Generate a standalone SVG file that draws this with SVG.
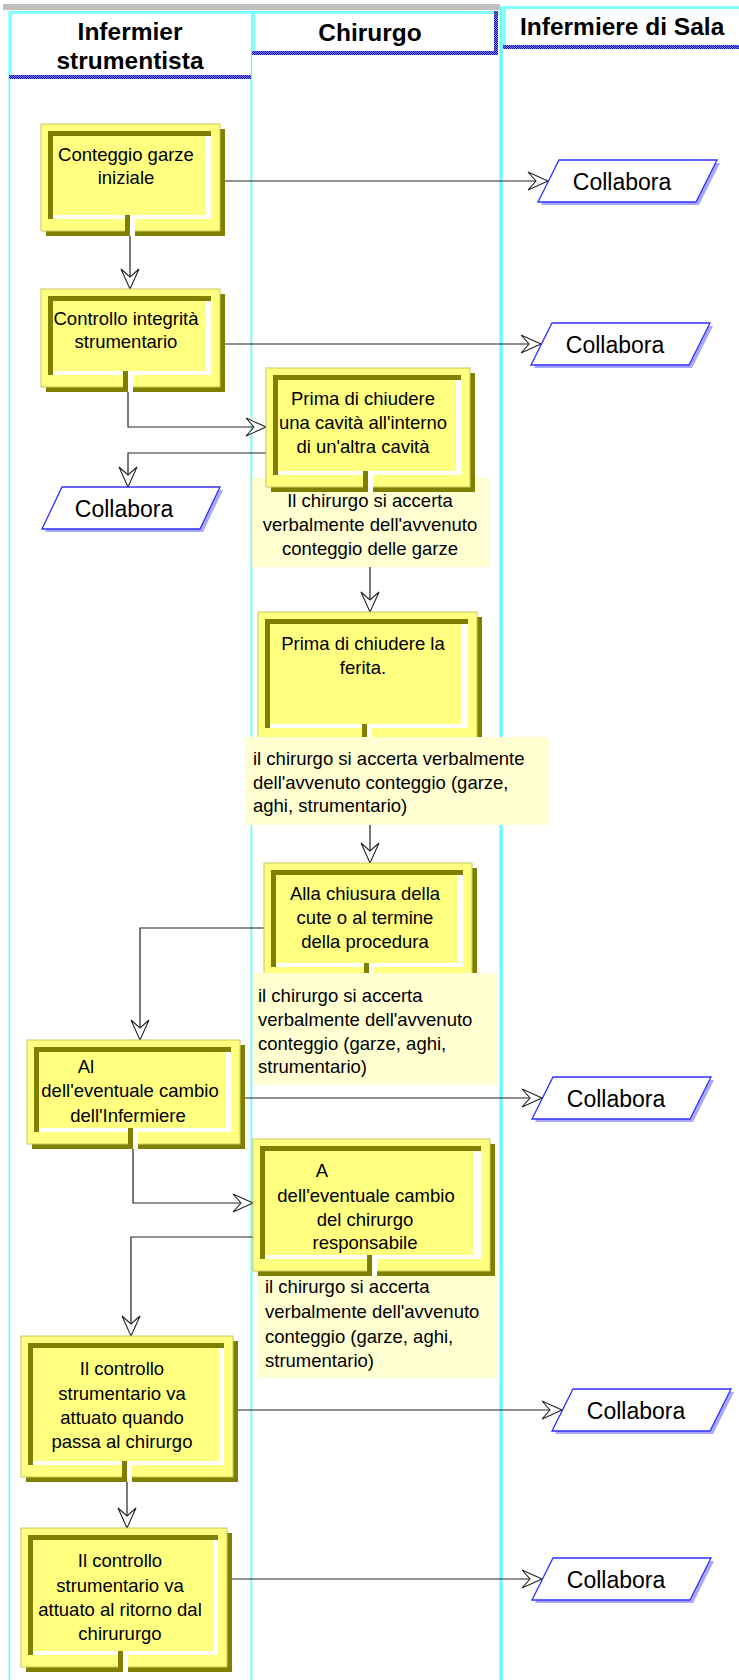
<svg xmlns="http://www.w3.org/2000/svg" width="739" height="1680" viewBox="0 0 739 1680">
<style>
.lane{fill:#66FFFF}
.hdr{fill:#FFFFFF}
.cy{fill:#80FFFF}
.dot{fill:url(#dots)}
.ht{font-family:"Liberation Sans",Arial,sans-serif;font-weight:bold;font-size:24.5px;fill:#000}
.sh{fill:#808000}
.out{fill:#FFFF80;stroke:#C8C860;stroke-width:1}
.frm{fill:#808000}
.wh{fill:#FFFFFF}
.face{fill:#FFFF80}
.t{font-family:"Liberation Sans",Arial,sans-serif;font-size:18.5px;fill:#000;text-anchor:middle}
.tl{font-family:"Liberation Sans",Arial,sans-serif;font-size:18.5px;fill:#000}
.note{fill:#FFFFD2}
.csh{fill:#A8A8FF}
.cp{fill:#FFFFFF;stroke:#3030FF;stroke-width:1.3}
.ct{font-family:"Liberation Sans",Arial,sans-serif;font-size:23px;fill:#000;text-anchor:middle}
.ln{fill:none;stroke:#222;stroke-width:1.2;marker-end:url(#arr)}
</style>
<defs>
<pattern id="dots" width="2" height="2" patternUnits="userSpaceOnUse">
<rect width="2" height="2" fill="#8080FF"/>
<rect width="1" height="1" fill="#1010A0"/>
<rect x="1" y="1" width="1" height="1" fill="#1010A0"/>
</pattern>
<marker id="arr" markerUnits="userSpaceOnUse" markerWidth="24" markerHeight="22" viewBox="0 0 24 22" refX="22" refY="11" orient="auto">
<path d="M2,2 L22,11 L2,20 L10,11 Z" fill="#FFFFFF" stroke="#222" stroke-width="1.1" stroke-linejoin="miter"/>
</marker>
</defs>
<rect width="739" height="1680" fill="#FFFFFF"/>

<g id="lanes">
<rect x="3" y="4" width="497" height="6" fill="#C0C0C0"/>
<rect class="lane" x="8.5" y="11" width="1.6" height="1669"/>
<rect class="lane" x="250.5" y="11" width="1.8" height="1669"/>
<rect class="lane" x="499.5" y="6" width="3.2" height="1674"/>
</g>

<g id="h1">
<rect class="hdr" x="9" y="11" width="242" height="68"/>
<rect class="cy" x="9" y="11" width="242" height="3"/>
<rect class="cy" x="9" y="11" width="3" height="68"/>
<rect class="dot" x="9" y="75" width="242" height="4"/>
<text class="ht" x="130" y="40" text-anchor="middle">Infermier</text>
<text class="ht" x="130" y="69" text-anchor="middle">strumentista</text>
</g>
<g id="h2">
<rect class="hdr" x="252" y="11" width="246" height="44"/>
<rect class="cy" x="252" y="11" width="246" height="3"/>
<rect class="cy" x="252" y="11" width="3" height="44"/>
<rect class="dot" x="494" y="11" width="4" height="44"/>
<rect class="dot" x="252" y="51" width="246" height="4"/>
<text class="ht" x="370" y="41" text-anchor="middle">Chirurgo</text>
</g>
<g id="h3">
<rect class="hdr" x="503" y="6" width="236" height="43"/>
<rect class="cy" x="503" y="6" width="236" height="3"/>
<rect class="cy" x="503" y="6" width="3" height="43"/>
<rect class="dot" x="503" y="45" width="236" height="4"/>
<text class="ht" x="520" y="35">Infermiere di Sala</text>
</g>

<g id="connectors">
<path class="ln" d="M225,181 L548,181"/>
<path class="ln" d="M130,235 L130,289"/>
<path class="ln" d="M225,344 L541,344"/>
<path class="ln" d="M128,392 L128,427 L266,427"/>
<path class="ln" d="M266,453 L128,453 L128,487"/>
<path class="ln" d="M370,567 L370,612"/>
<path class="ln" d="M370,825 L370,863"/>
<path class="ln" d="M264,928 L140,928 L140,1040"/>
<path class="ln" d="M245,1098 L542,1098"/>
<path class="ln" d="M133,1149 L133,1203 L253,1203"/>
<path class="ln" d="M253,1237 L131,1237 L131,1336"/>
<path class="ln" d="M238,1410 L562,1410"/>
<path class="ln" d="M127,1482 L127,1528"/>
<path class="ln" d="M232,1579 L542,1579"/>
</g>

<g id="n1">
<rect class="sh" x="46" y="129" width="179" height="107"/>
<rect class="out" x="41" y="124" width="179" height="107"/>
<rect class="frm" x="48" y="131" width="163" height="88"/>
<rect class="wh" x="53" y="136" width="158" height="83"/>
<rect class="face" x="53" y="136" width="153" height="79"/>
<rect class="frm" x="125" y="215" width="5" height="21"/>
<rect class="wh" x="130" y="215" width="5" height="21"/>
<text class="t" x="126" y="161">Conteggio garze</text>
<text class="t" x="126" y="184">iniziale</text>
</g>

<g id="n2">
<rect class="sh" x="46" y="294" width="179" height="98"/>
<rect class="out" x="41" y="289" width="179" height="98"/>
<rect class="frm" x="48" y="296" width="163" height="79"/>
<rect class="wh" x="53" y="301" width="158" height="74"/>
<rect class="face" x="53" y="301" width="153" height="70"/>
<rect class="frm" x="123" y="371" width="5" height="21"/>
<rect class="wh" x="128" y="371" width="5" height="21"/>
<text class="t" x="126" y="325">Controllo integrità</text>
<text class="t" x="126" y="348">strumentario</text>
</g>

<g id="c1">
<polygon class="csh" points="541,205 562,163 720,163 699,205"/>
<polygon class="cp" points="538,202 559,160 717,160 696,202"/>
<text class="ct" x="622" y="190">Collabora</text>
</g>
<g id="c2">
<polygon class="csh" points="534,368 555,326 713,326 692,368"/>
<polygon class="cp" points="531,365 552,323 710,323 689,365"/>
<text class="ct" x="615" y="353">Collabora</text>
</g>
<g id="c3">
<polygon class="csh" points="45,532 65,490 223,490 203,532"/>
<polygon class="cp" points="42,529 62,487 220,487 200,529"/>
<text class="ct" x="124" y="517">Collabora</text>
</g>

<g id="note1">
<rect class="note" x="252" y="478" width="238" height="89"/>
<text class="t" x="370" y="507">Il chirurgo si accerta</text>
<text class="t" x="370" y="531">verbalmente dell'avvenuto</text>
<text class="t" x="370" y="555">conteggio delle garze</text>
</g>

<g id="n3">
<rect class="sh" x="271" y="373" width="204" height="119"/>
<rect class="out" x="266" y="368" width="204" height="119"/>
<rect class="frm" x="273" y="375" width="188" height="100"/>
<rect class="wh" x="278" y="380" width="183" height="95"/>
<rect class="face" x="278" y="380" width="178" height="91"/>
<rect class="frm" x="363" y="471" width="5" height="21"/>
<rect class="wh" x="368" y="471" width="5" height="21"/>
<text class="t" x="363" y="405">Prima di chiudere</text>
<text class="t" x="363" y="429">una cavità all'interno</text>
<text class="t" x="363" y="453">di un'altra cavità</text>
</g>

<g id="n4">
<rect class="sh" x="263" y="617" width="219" height="128"/>
<rect class="out" x="258" y="612" width="219" height="128"/>
<rect class="frm" x="265" y="619" width="203" height="109"/>
<rect class="wh" x="270" y="624" width="198" height="104"/>
<rect class="face" x="270" y="624" width="191" height="100"/>
<rect class="frm" x="362" y="724" width="5" height="21"/>
<rect class="wh" x="367" y="724" width="5" height="21"/>
<text class="t" x="363" y="650">Prima di chiudere la</text>
<text class="t" x="363" y="674">ferita.</text>
</g>

<g id="note2">
<rect class="note" x="245" y="737" width="304" height="88"/>
<text class="tl" x="253" y="765">il chirurgo si accerta verbalmente</text>
<text class="tl" x="253" y="789">dell'avvenuto conteggio (garze,</text>
<text class="tl" x="253" y="812">aghi, strumentario)</text>
</g>

<g id="n5">
<rect class="sh" x="269" y="868" width="208" height="116"/>
<rect class="out" x="264" y="863" width="208" height="116"/>
<rect class="frm" x="271" y="870" width="192" height="97"/>
<rect class="wh" x="276" y="875" width="187" height="92"/>
<rect class="face" x="276" y="875" width="182" height="88"/>
<rect class="frm" x="364" y="963" width="5" height="21"/>
<rect class="wh" x="369" y="963" width="5" height="21"/>
<text class="t" x="365" y="900">Alla chiusura della</text>
<text class="t" x="365" y="924">cute o al termine</text>
<text class="t" x="365" y="948">della procedura</text>
</g>

<g id="note3">
<rect class="note" x="253" y="973" width="244" height="112"/>
<text class="tl" x="258" y="1002">il chirurgo si accerta</text>
<text class="tl" x="258" y="1026">verbalmente dell'avvenuto</text>
<text class="tl" x="258" y="1050">conteggio (garze, aghi,</text>
<text class="tl" x="258" y="1073">strumentario)</text>
</g>

<g id="n6">
<rect class="sh" x="32" y="1045" width="213" height="104"/>
<rect class="out" x="27" y="1040" width="213" height="104"/>
<rect class="frm" x="34" y="1047" width="197" height="85"/>
<rect class="wh" x="39" y="1052" width="192" height="80"/>
<rect class="face" x="39" y="1052" width="187" height="76"/>
<rect class="frm" x="128" y="1128" width="5" height="21"/>
<rect class="wh" x="133" y="1128" width="5" height="21"/>
<text class="t" x="86" y="1073">Al</text>
<text class="t" x="130" y="1097">dell'eventuale cambio</text>
<text class="t" x="128" y="1122">dell'Infermiere</text>
</g>

<g id="c4">
<polygon class="csh" points="535,1122 556,1080 714,1080 693,1122"/>
<polygon class="cp" points="532,1119 553,1077 711,1077 690,1119"/>
<text class="ct" x="616" y="1107">Collabora</text>
</g>

<g id="note4">
<rect class="note" x="257" y="1265" width="241" height="113"/>
<text class="tl" x="265" y="1293">il chirurgo si accerta</text>
<text class="tl" x="265" y="1318">verbalmente dell'avvenuto</text>
<text class="tl" x="265" y="1343">conteggio (garze, aghi,</text>
<text class="tl" x="265" y="1367">strumentario)</text>
</g>

<g id="n7">
<rect class="sh" x="258" y="1144" width="237" height="132"/>
<rect class="out" x="253" y="1139" width="237" height="132"/>
<rect class="frm" x="260" y="1146" width="221" height="113"/>
<rect class="wh" x="265" y="1151" width="216" height="108"/>
<rect class="face" x="265" y="1151" width="209" height="104"/>
<rect class="frm" x="367" y="1255" width="5" height="21"/>
<rect class="wh" x="372" y="1255" width="5" height="21"/>
<text class="t" x="322" y="1177">A</text>
<text class="t" x="366" y="1202">dell'eventuale cambio</text>
<text class="t" x="365" y="1226">del chirurgo</text>
<text class="t" x="365" y="1249">responsabile</text>
</g>

<g id="n8">
<rect class="sh" x="26" y="1341" width="212" height="141"/>
<rect class="out" x="21" y="1336" width="212" height="141"/>
<rect class="frm" x="28" y="1343" width="196" height="122"/>
<rect class="wh" x="33" y="1348" width="191" height="117"/>
<rect class="face" x="33" y="1348" width="186" height="113"/>
<rect class="frm" x="122" y="1461" width="5" height="21"/>
<rect class="wh" x="127" y="1461" width="5" height="21"/>
<text class="t" x="122" y="1375">Il controllo</text>
<text class="t" x="122" y="1400">strumentario va</text>
<text class="t" x="122" y="1424">attuato quando</text>
<text class="t" x="122" y="1448">passa al chirurgo</text>
</g>

<g id="c5">
<polygon class="csh" points="555,1434 576,1392 734,1392 713,1434"/>
<polygon class="cp" points="552,1431 573,1389 731,1389 710,1431"/>
<text class="ct" x="636" y="1419">Collabora</text>
</g>

<g id="n9">
<rect class="sh" x="26" y="1533" width="206" height="139"/>
<rect class="out" x="21" y="1528" width="206" height="139"/>
<rect class="frm" x="28" y="1535" width="190" height="120"/>
<rect class="wh" x="33" y="1540" width="185" height="115"/>
<rect class="face" x="33" y="1540" width="180" height="111"/>
<rect class="frm" x="118" y="1651" width="5" height="21"/>
<rect class="wh" x="123" y="1651" width="5" height="21"/>
<text class="t" x="120" y="1567">Il controllo</text>
<text class="t" x="120" y="1592">strumentario va</text>
<text class="t" x="120" y="1616">attuato al ritorno dal</text>
<text class="t" x="120" y="1640">chirururgo</text>
</g>

<g id="c6">
<polygon class="csh" points="535,1603 556,1561 714,1561 693,1603"/>
<polygon class="cp" points="532,1600 553,1558 711,1558 690,1600"/>
<text class="ct" x="616" y="1588">Collabora</text>
</g>
</svg>
